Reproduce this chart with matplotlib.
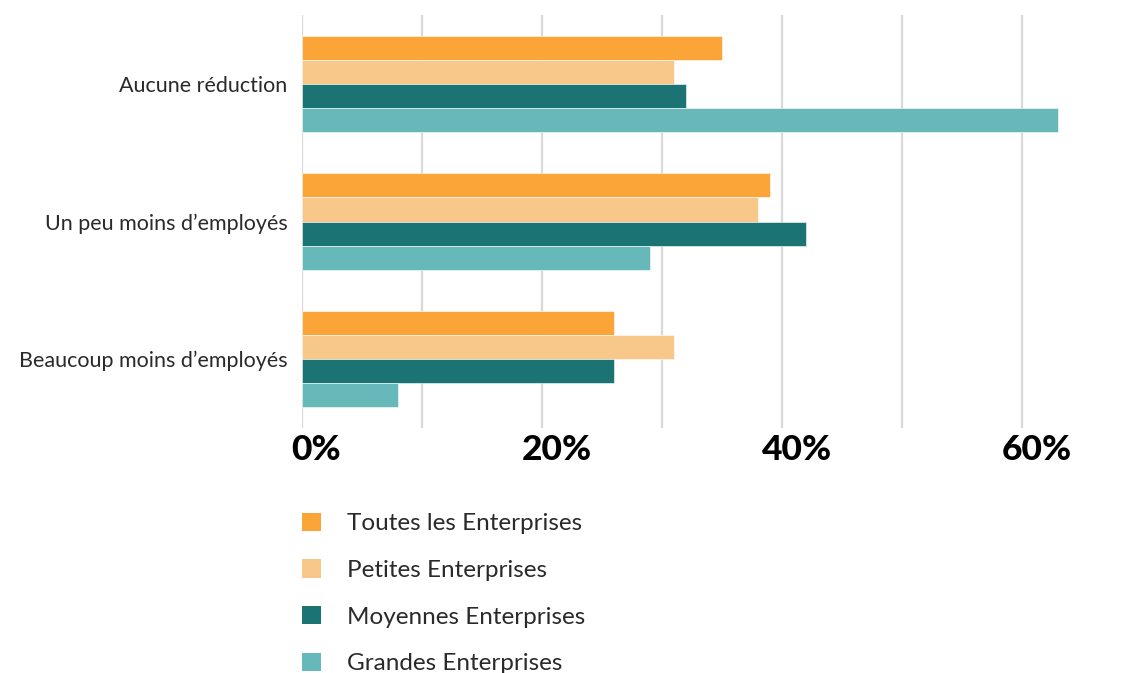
import numpy as np
import matplotlib
matplotlib.use('Agg')
import matplotlib.pyplot as plt
from matplotlib.transforms import ScaledTranslation
from matplotlib.patches import Patch

# Data (percent)
categories = ['Aucune réduction', 'Un peu moins d\u2019employés', 'Beaucoup moins d\u2019employés']
series_names = ['Toutes les Enterprises', 'Petites Enterprises', 'Moyennes Enterprises', 'Grandes Enterprises']
toutes = [35, 39, 26]
petites = [31, 38, 31]
moyennes = [32, 42, 26]
grandes = [63, 29, 8]
colors = ['#FBA538', '#F8C78A', '#1C7373', '#66B8B9']
tick_vals = [0, 20, 40, 60]

values = [toutes, petites, moyennes, grandes]

plt.rcParams['font.family'] = ['Lato', 'DejaVu Sans']

fig = plt.figure(figsize=(11.39, 6.73), dpi=100)
ax = fig.add_axes([302/1139, 1 - 428/673, (65*12)/1139, (428 - 15)/673])

y = np.arange(len(categories))
h = 0.175
for i, (vals, name, c) in enumerate(zip(values, series_names, colors)):
    ax.barh(y + (i - 1.5)*h, vals, height=h, color=c, label=name,
            edgecolor='white', linewidth=0.4, zorder=3)

ax.set_xlim(0, 65)
ax.set_ylim(2.5, -0.5)

ax.set_xticks([0, 10, 20, 30, 40, 50, 60])
ax.set_xticklabels([])
ax.tick_params(axis='x', length=0)
# tick labels sit slightly right of their gridlines, as in the reference
off = ScaledTranslation(0.145, -0.06, fig.dpi_scale_trans)
for v in tick_vals:
    ax.text(v, 0, f'{v}%', transform=ax.get_xaxis_transform() + off,
            ha='center', va='top', fontsize=25.5, fontweight='black', color='black')

ax.set_yticks(y)
ax.set_yticklabels(categories, fontsize=15.5, color='#2a2a2a')
ax.tick_params(axis='y', length=0, pad=10.5)

ax.grid(axis='x', color='#d9d9d9', linewidth=1.6, zorder=0)
for s in ax.spines.values():
    s.set_visible(False)

handles = [Patch(facecolor=c, edgecolor='none') for c in colors]
leg = fig.legend(handles, series_names, loc='upper left',
                 bbox_to_anchor=(292/1139, 1 - 503/673), frameon=False,
                 handlelength=0.78, handleheight=0.78,
                 handletextpad=1.08, labelspacing=1.03, borderaxespad=0,
                 prop={'family': ['Lato', 'DejaVu Sans'], 'size': 17.5})
for t in leg.get_texts():
    t.set_color('#2a2a2a')

fig.savefig('out.png', dpi=100)
